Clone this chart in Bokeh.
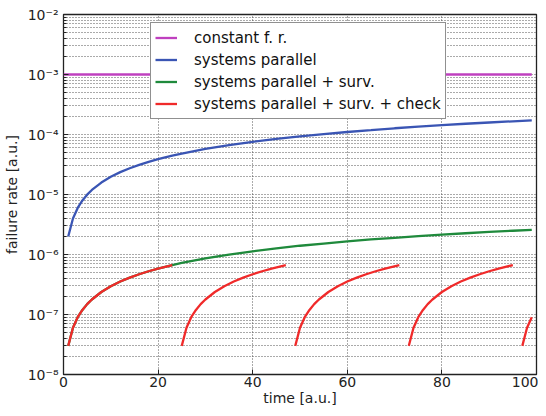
from bokeh.plotting import figure
from bokeh.models import Range1d, FixedTicker, CustomJSTickFormatter, Legend
from bokeh.embed import file_html
from bokeh.resources import INLINE

# ---------------- data ----------------
t_const = [0, 99]
v_const = [1e-3, 1e-3]

t_par = [1, 2, 3, 4, 5, 6, 8, 10, 12, 14, 16, 18, 20, 23, 25, 30, 35, 40, 45,
         50, 55, 60, 65, 70, 75, 80, 85, 90, 95, 99]
v_par = [2.00e-6, 3.99e-6, 5.97e-6, 7.95e-6, 9.93e-6, 1.19e-5, 1.58e-5, 1.97e-5,
         2.36e-5, 2.74e-5, 3.12e-5, 3.50e-5, 3.88e-5, 4.45e-5, 4.82e-5, 5.74e-5,
         6.65e-5, 7.55e-5, 8.43e-5, 9.30e-5, 1.016e-4, 1.10e-4, 1.18e-4, 1.27e-4,
         1.35e-4, 1.43e-4, 1.51e-4, 1.585e-4, 1.66e-4, 1.72e-4]

t_surv = t_par
v_surv = [3.0e-8, 6.0e-8, 9.0e-8, 1.19e-7, 1.49e-7, 1.78e-7, 2.37e-7, 2.96e-7,
          3.54e-7, 4.11e-7, 4.69e-7, 5.26e-7, 5.82e-7, 6.67e-7, 7.23e-7, 8.61e-7,
          9.98e-7, 1.13e-6, 1.26e-6, 1.40e-6, 1.52e-6, 1.65e-6, 1.78e-6, 1.90e-6,
          2.02e-6, 2.14e-6, 2.26e-6, 2.38e-6, 2.49e-6, 2.58e-6]

t_check = [
    [1, 2, 3, 4, 5, 6, 8, 10, 12, 14, 16, 18, 20, 23],
    [25, 26, 27, 28, 29, 30, 32, 34, 36, 38, 40, 42, 44, 47],
    [49, 50, 51, 52, 53, 54, 56, 58, 60, 62, 64, 66, 68, 71],
    [73, 74, 75, 76, 77, 78, 80, 82, 84, 86, 88, 90, 92, 95],
    [97, 98, 99],
]
v_check = [
    [3.0e-8, 6.0e-8, 9.0e-8, 1.19e-7, 1.49e-7, 1.78e-7, 2.37e-7, 2.96e-7, 3.54e-7, 4.11e-7, 4.69e-7, 5.26e-7, 5.82e-7, 6.67e-7],
    [3.0e-8, 6.0e-8, 9.0e-8, 1.19e-7, 1.49e-7, 1.78e-7, 2.37e-7, 2.96e-7, 3.54e-7, 4.11e-7, 4.69e-7, 5.26e-7, 5.82e-7, 6.67e-7],
    [3.0e-8, 6.0e-8, 9.0e-8, 1.19e-7, 1.49e-7, 1.78e-7, 2.37e-7, 2.96e-7, 3.54e-7, 4.11e-7, 4.69e-7, 5.26e-7, 5.82e-7, 6.67e-7],
    [3.0e-8, 6.0e-8, 9.0e-8, 1.19e-7, 1.49e-7, 1.78e-7, 2.37e-7, 2.96e-7, 3.54e-7, 4.11e-7, 4.69e-7, 5.26e-7, 5.82e-7, 6.67e-7],
    [3.0e-8, 6.0e-8, 9.0e-8],
]

labels = ["constant f. r.", "systems parallel", "systems parallel + surv.",
          "systems parallel + surv. + check"]

x_ticks = [0, 20, 40, 60, 80, 100]
y_ticks = [1e-8, 1e-7, 1e-6, 1e-5, 1e-4, 1e-3, 1e-2]
y_minor = [m * d for d in y_ticks[:-1] for m in range(2, 10)]

# ---------------- figure ----------------
FONT = "DejaVu Sans"
p = figure(width=538, height=408, y_axis_type="log",
           x_range=Range1d(0, 100), y_range=Range1d(1e-8, 1e-2),
           output_backend="svg", toolbar_location=None,
           min_border_left=55, min_border_right=2, min_border_top=14,
           min_border_bottom=28)
p.background_fill_color = "white"
p.border_fill_color = "white"
p.outline_line_color = "#222222"
p.outline_line_width = 1.3

fmt_y = CustomJSTickFormatter(code="""
const e = Math.round(Math.log10(tick));
const sup = {"-":"\\u207b","0":"\\u2070","1":"\\u00b9","2":"\\u00b2","3":"\\u00b3",
             "4":"\\u2074","5":"\\u2075","6":"\\u2076","7":"\\u2077","8":"\\u2078","9":"\\u2079"};
return "10" + String(e).split("").map(c => sup[c]).join("");
""")

xt = FixedTicker(ticks=x_ticks, minor_ticks=[])
yt = FixedTicker(ticks=y_ticks, minor_ticks=y_minor)

for ax in (p.xaxis[0], p.yaxis[0]):
    ax.axis_line_color = None
    ax.major_tick_in = 5
    ax.major_tick_out = 0
    ax.minor_tick_in = 3
    ax.minor_tick_out = 0
    ax.major_tick_line_color = "#222222"
    ax.minor_tick_line_color = "#222222"
    ax.major_label_text_font = FONT
    ax.major_label_text_font_size = "14px"
    ax.major_label_text_color = "#222222"
    ax.axis_label_text_font = FONT
    ax.axis_label_text_font_size = "14px"
    ax.axis_label_text_font_style = "normal"
    ax.axis_label_text_color = "#222222"

p.xaxis[0].ticker = xt
p.xaxis[0].axis_label = "time [a.u.]"
p.xaxis[0].major_label_standoff = 2
p.xaxis[0].axis_label_standoff = 0

p.yaxis[0].ticker = yt
p.yaxis[0].formatter = fmt_y
p.yaxis[0].axis_label = "failure rate [a.u.]"
p.yaxis[0].major_label_standoff = 5
p.yaxis[0].axis_label_standoff = 5

p.xgrid.ticker = xt
p.ygrid.ticker = yt
for g in (p.xgrid, p.ygrid):
    g.grid_line_color = "#555555"
    g.grid_line_dash = "1 2"
    g.grid_line_width = 1
p.ygrid.minor_grid_line_color = "#555555"
p.ygrid.minor_grid_line_dash = "1 2"
p.ygrid.minor_grid_line_width = 1

# ---------------- lines ----------------
r1 = p.line(t_const, v_const, line_color="#bf40bf", line_width=2.3)
r2 = p.line(t_par, v_par, line_color="#3a55b4", line_width=2.3)
r3 = p.line(t_surv, v_surv, line_color="#1f8a3c", line_width=2.3)
r4 = p.multi_line(t_check, v_check, line_color="#f02a2a", line_width=2.3)

legend = Legend(items=[(labels[0], [r1]), (labels[1], [r2]),
                       (labels[2], [r3]), (labels[3], [r4])],
                location=(87, 255))
legend.label_text_font = FONT
legend.label_text_font_size = "15px"
legend.label_text_color = "#111111"
legend.glyph_width = 22
legend.glyph_height = 21
legend.label_height = 21
legend.label_standoff = 17
legend.spacing = 1
legend.padding = 4
legend.margin = 0
legend.border_line_color = "#222222"
legend.border_line_width = 1.2
legend.background_fill_color = "white"
legend.background_fill_alpha = 1
p.add_layout(legend, "center")

with open("out.html", "w", encoding="utf-8") as f:
    f.write(file_html(p, INLINE))
